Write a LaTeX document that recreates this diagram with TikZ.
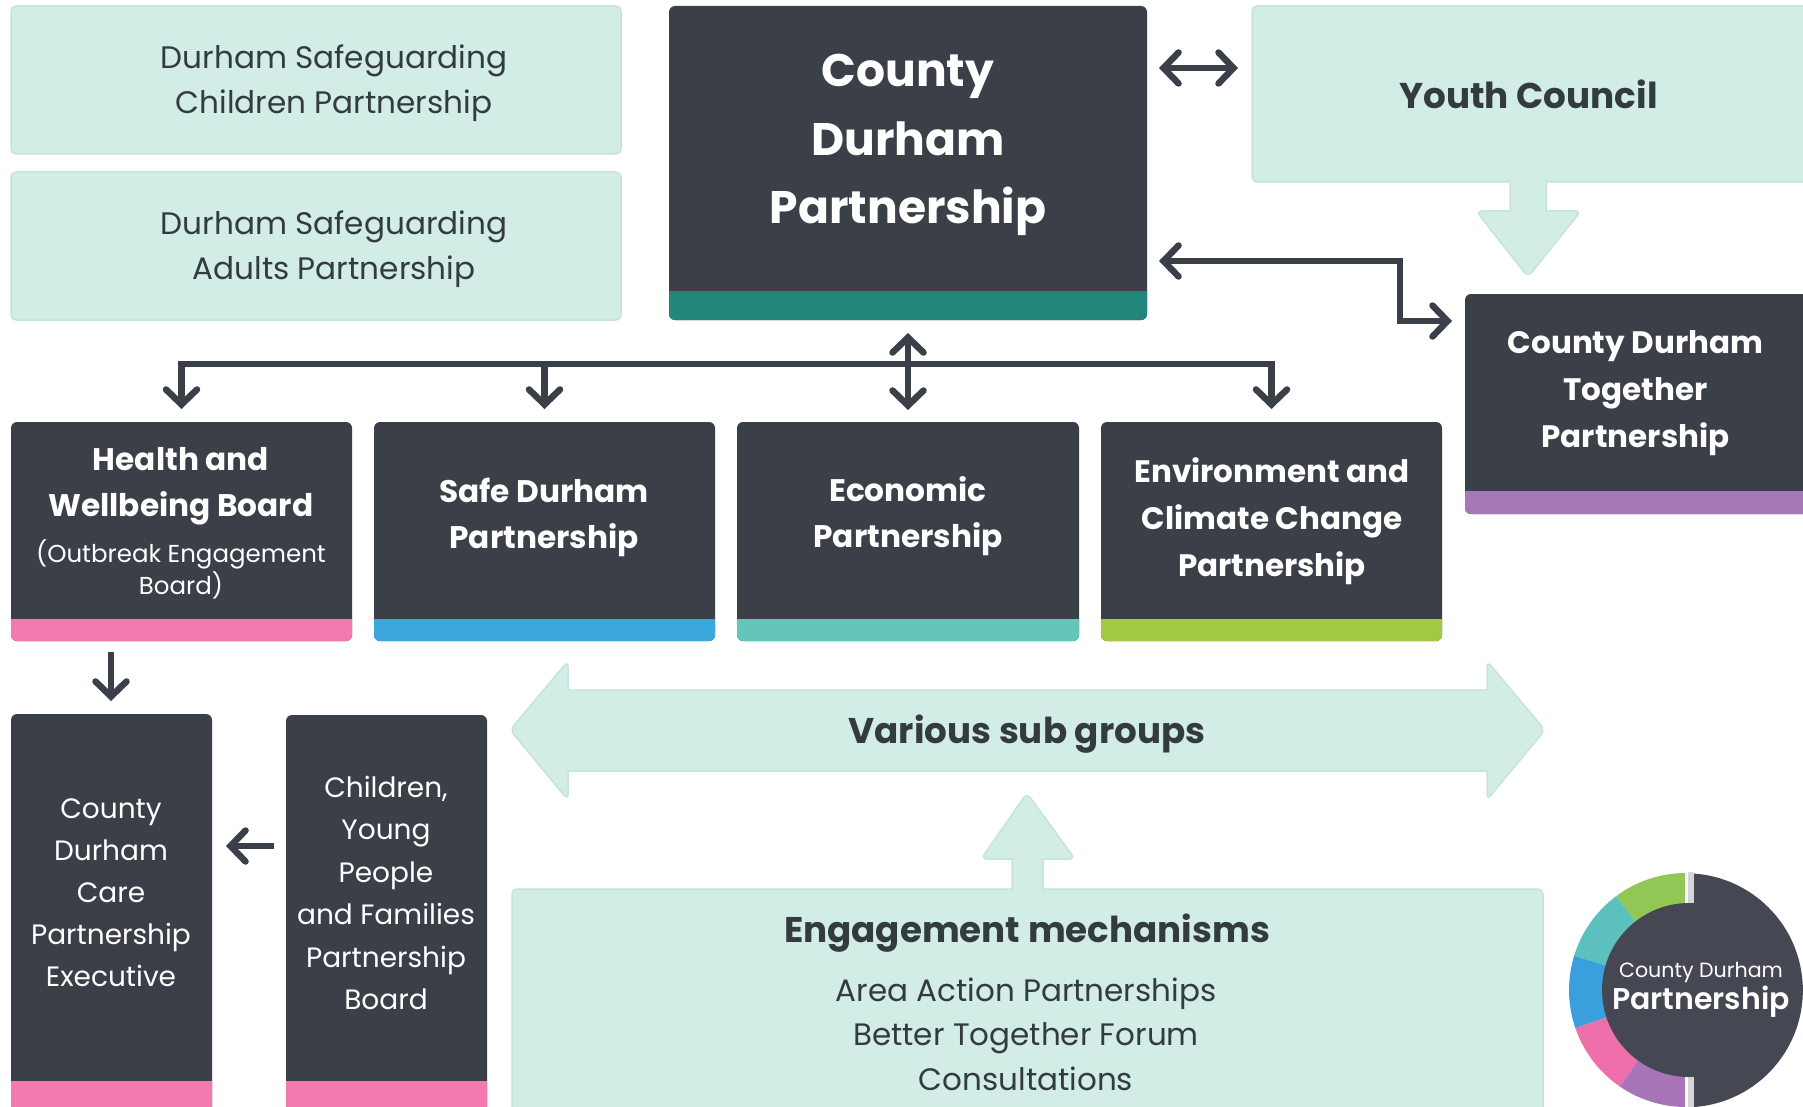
\documentclass[tikz,border=0pt]{standalone}
\usepackage{fontspec}
\setmainfont{Poppins}
\newfontfamily\logofont{Poppins SemiBold}
\usetikzlibrary{arrows.meta,calc}
\definecolor{darkbox}{HTML}{3A3F48}
\definecolor{palebox}{HTML}{D2ECE6}
\definecolor{paleedge}{HTML}{C7E3DC}
\definecolor{inktext}{HTML}{333B40}
\definecolor{stripteal}{HTML}{22877A}
\definecolor{strippink}{HTML}{F27AAE}
\definecolor{stripblue}{HTML}{3BA7DC}
\definecolor{stripaqua}{HTML}{65C5BA}
\definecolor{stripgreen}{HTML}{A2C844}
\definecolor{strippurple}{HTML}{A878B6}
\definecolor{logodark}{HTML}{454852}
\definecolor{logogreen}{HTML}{92C755}
\definecolor{logoaqua}{HTML}{5BC0BE}
\definecolor{logoblue}{HTML}{3A9FDD}
\definecolor{logopink}{HTML}{EE6FAC}
\definecolor{logopurple}{HTML}{A874B8}
\definecolor{logoslit}{HTML}{D5D5D5}
\newcommand{\fsz}[2]{\fontsize{#1pt}{#2pt}\selectfont}
\tikzset{
  darkshape/.style={fill=darkbox,rounded corners=6pt,inner sep=0pt,outer sep=0pt,anchor=north west},
  paleshape/.style={fill=palebox,draw=paleedge,line width=1.5pt,rounded corners=5pt,inner sep=0pt,outer sep=0pt,anchor=north west},
  palearrow/.style={fill=palebox,draw=paleedge,line width=1.5pt,rounded corners=6pt},
  link/.style={draw=darkbox,line width=6.5pt,-{Straight Barb[length=15pt,width=31pt,line cap=round]}},
  linkboth/.style={draw=darkbox,line width=6.5pt,{Straight Barb[length=15pt,width=31pt,line cap=round]}-{Straight Barb[length=15pt,width=31pt,line cap=round]}},
  whitetext/.style={text=white,align=center,inner sep=0pt},
  inktxt/.style={text=inktext,align=center,inner sep=0pt},
}
% name, x1, y1, x2, y2, strip top, strip colour
\newcommand{\stripbox}[7]{%
  \node[darkshape,minimum width=#4pt-#2pt,minimum height=#5pt-#3pt] (#1) at (#2,#3) {};
  \fill[#7] (#2,#6) -- (#4,#6) [rounded corners=6pt] -- (#4,#5) -- (#2,#5) [sharp corners] -- cycle;
}
\begin{document}
\begin{tikzpicture}[x=1pt,y=-1pt]
\useasboundingbox (0,0) rectangle (1803,1107);
\clip (0,0) rectangle (1803,1107);
\fill[white] (0,0) rectangle (1803,1107);

% pale boxes
\node[paleshape,minimum width=610pt,minimum height=148pt] (sgchildren) at (11,6) {};
\node[paleshape,minimum width=610pt,minimum height=148pt] (sgadults) at (11,172) {};
\node[paleshape,minimum width=570pt,minimum height=176pt] (youth) at (1252,6) {};
\node[paleshape,minimum width=1031pt,minimum height=240pt] (engage) at (512,889) {};

% pale arrows
\draw[palearrow] (1510,180) [sharp corners] -- (1510,211) [rounded corners=6pt] -- (1476,211) -- (1528,277) -- (1581,211) [sharp corners] -- (1546,211) -- (1546,180);
\draw[palearrow] (1012,891) [sharp corners] -- (1012,859) [rounded corners=6pt] -- (981,859) -- (1027,793) -- (1075,859) [sharp corners] -- (1043,859) -- (1043,891);
\draw[palearrow] (510,730) -- (568,661) [sharp corners] -- (568,690) -- (1487,690) [rounded corners=6pt] -- (1487,661) -- (1545,730) -- (1487,800) [sharp corners] -- (1487,771) -- (568,771) [rounded corners=6pt] -- (568,800) -- cycle;

% dark boxes
\stripbox{cdp}{669}{6}{1147}{320}{291}{stripteal}
\stripbox{together}{1465}{294}{1815}{514}{491}{strippurple}
\stripbox{hw}{11}{422}{352}{641}{619}{strippink}
\stripbox{safe}{374}{422}{715}{641}{619}{stripblue}
\stripbox{econ}{737}{422}{1079}{641}{619}{stripaqua}
\stripbox{env}{1101}{422}{1442}{641}{619}{stripgreen}
\stripbox{care}{11}{714}{212}{1125}{1081}{strippink}
\stripbox{cyp}{286}{715}{487}{1125}{1081}{strippink}

% connectors
\coordinate (bus) at (0,364);
\coordinate (linkYouth) at (0,68);
\coordinate (linkTop) at (0,261);
\coordinate (linkBottom) at (0,321);
\coordinate (elbowX) at (1400,0);
\coordinate (leftDrop) at (111,0);
\coordinate (linkCare) at (0,846);
\draw[linkboth,shorten <=12pt,shorten >=14pt] (cdp.east |- linkYouth) -- (youth.west |- linkYouth);
\draw[linkboth,shorten <=12pt,shorten >=13pt] (cdp.east |- linkTop) -- (elbowX |- linkTop) -- (elbowX |- linkBottom) -- (together.west |- linkBottom);
\draw[draw=darkbox,line width=6.5pt,line cap=rect] (hw.north |- bus) -- (env.north |- bus);
\draw[link,shorten >=13pt] (hw.north |- bus) -- (hw.north);
\draw[link,shorten >=13pt] (safe.north |- bus) -- (safe.north);
\draw[link,shorten >=13pt] (env.north |- bus) -- (env.north);
\draw[linkboth,shorten <=13pt,shorten >=12pt] (cdp.south) -- (econ.north);
\draw[link,shorten <=11pt,shorten >=13pt] (leftDrop |- hw.south) -- (leftDrop |- care.north);
\draw[link,shorten <=12pt,shorten >=14pt] (cyp.west |- linkCare) -- (care.east |- linkCare);

% texts
\node[inktxt,font=\fsz{31.1}{45}] (tchildren) at (334,83.5) {Durham Safeguarding\\Children Partnership};
\node[inktxt,font=\fsz{31.1}{45}] (tadults) at (334,249.5) {Durham Safeguarding\\Adults Partnership};
\node[whitetext,font=\bfseries\fsz{45.6}{68.5}] (tcdp) at (908,145) {County\\Durham\\Partnership};
\node[inktxt,font=\bfseries\fsz{35.8}{45}] (tyouth) at (1528.5,94) {Youth Council};
\node[whitetext,font=\bfseries\fsz{31}{47}] (ttogether) at (1635.5,393) {County Durham\\Together\\Partnership};
\node[whitetext,font=\bfseries\fsz{31.2}{46}] (thw) at (181,486.5) {Health and\\Wellbeing Board};
\node[whitetext,font=\fsz{24.5}{32}] (thwsub) at (181,569) {(Outbreak Engagement\\Board)};
\node[whitetext,font=\bfseries\fsz{31.2}{46}] (tsafe) at (544,517) {Safe Durham\\Partnership};
\node[whitetext,font=\bfseries\fsz{31.2}{46}] (tecon) at (908,516.5) {Economic\\Partnership};
\node[whitetext,font=\bfseries\fsz{31}{47}] (tenv) at (1272,521.5) {Environment and\\Climate Change\\Partnership};
\node[whitetext,font=\fsz{28}{42}] (tcare) at (111,893) {County\\Durham\\Care\\Partnership\\Executive};
\node[whitetext,font=\fsz{28}{42.4}] (tcyp) at (386,893) {Children,\\Young\\People\\and Families\\Partnership\\Board};
\node[inktxt,font=\bfseries\fsz{35.7}{45}] (tvarious) at (1027,734.5) {Various sub groups};
\node[inktxt,font=\bfseries\fsz{35.7}{45}] (tengage) at (1027,933.5) {Engagement mechanisms};
\node[inktxt,font=\fsz{31}{44.5}] (tmech) at (1026,1034) {Area Action Partnerships\hspace{6pt}\\Better Together Forum\\Consultations};

% logo
\begin{scope}[shift={(1686,990)},x=1pt,y=1pt]
  \fill[logogreen]  (0,0) -- (90:117) arc (90:126.6:117) -- cycle;
  \fill[logoaqua]   (0,0) -- (126.6:117) arc (126.6:163:117) -- cycle;
  \fill[logoblue]   (0,0) -- (163:117) arc (163:199:117) -- cycle;
  \fill[logopink]   (0,0) -- (199:117) arc (199:235.7:117) -- cycle;
  \fill[logopurple] (0,0) -- (235.7:117) arc (235.7:270:117) -- cycle;
  \fill[white] (-1,-118) rectangle (2,118);
  \fill[logoslit] (2,-118) rectangle (8,118);
  \fill[logodark] (8,-117) arc (-86:86:117) -- cycle;
  \fill[logodark] (3,0) circle (87);
\end{scope}
\node[text=white,inner sep=0pt,font=\fsz{20.6}{26}] (tlogoa) at (1701,973) {County Durham};
\node[text=white,inner sep=0pt,font=\logofont\fsz{30}{34}] (tlogob) at (1701,1002) {Partnership};
\end{tikzpicture}
\end{document}
